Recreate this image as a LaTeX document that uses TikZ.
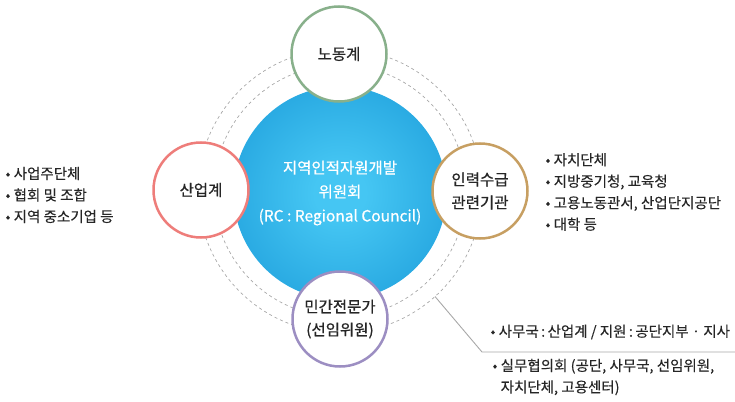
\documentclass[tikz,border=0pt]{standalone}
\usepackage{fontspec}
\setmainfont{Noto Sans CJK KR}
\newfontfamily\labelfont[FakeBold=0.7]{Noto Sans CJK KR}
\newfontfamily\listfont[FakeBold=0.25]{Noto Sans CJK KR}
\usetikzlibrary{positioning}
\usetikzlibrary{calc}

\definecolor{rclight}{HTML}{45C6F3}
\definecolor{rcdark}{HTML}{0787CD}
\definecolor{laborcol}{HTML}{88B08B}
\definecolor{industrycol}{HTML}{EE7D7A}
\definecolor{supplycol}{HTML}{C79F62}
\definecolor{expertcol}{HTML}{9C8EC2}
\definecolor{ringcol}{HTML}{A8A8A8}
\definecolor{textcol}{HTML}{262626}
\pgfdeclareradialshading{rcshading}{\pgfpoint{0bp}{0bp}}{color(0bp)=(rclight); color(6bp)=(rclight); color(50bp)=(rcdark)}

\begin{document}
\begin{tikzpicture}[x=1pt, y=-1pt,
    member/.style={circle, draw, line width=2.5pt, fill=white, minimum size=95pt, inner sep=0pt, align=center, text=textcol, font=\labelfont\fontsize{15.5}{23}\selectfont},
    ring/.style={draw=ringcol, line width=0.7pt, dash pattern=on 3pt off 3pt},
    bullets/.style={anchor=west, align=left, text=textcol, font=\listfont\fontsize{14.5}{21.5}\selectfont}]
    \useasboundingbox (0,0) rectangle (735,401); % keeps the page at the reference size
    \coordinate (mid) at (340,191);
    \draw[ring] (mid) circle[radius=126]; % inner dashed ring
    \draw[ring] (mid) circle[radius=142]; % outer dashed ring
    \node[circle, minimum size=213pt, inner sep=0pt, shading=rcshading, align=center, text=white, font=\labelfont\fontsize{15.5}{24}\selectfont] (rc) at (340,193) {지역인적자원개발\\위원회\\(RC : Regional Council)};
    \node[member, draw=laborcol] (labor) at (339,54) {노동계};
    \node[member, draw=industrycol] (industry) at (201,190) {산업계};
    \node[member, draw=supplycol] (supply) at (480,191) {인력수급\\관련기관};
    \node[member, draw=expertcol] (expert) at (340,319) {민간전문가\\(선임위원)};
    % member lists
    \node[bullets] (industrylist) at (2,195) {•~사업주단체\\•~협회 및 조합\\•~지역 중소기업 등};
    \node[bullets] (supplylist) at (542,192) {•~자치단체\\•~지방중기청, 교육청\\•~고용노동관서, 산업단지공단\\•~대학 등};
    % leader to the secretariat notes
    \coordinate (leadstart) at ($(mid)+(48:142)$);
    \coordinate (leadbend) at (482,352);
    \coordinate (leadend) at (735,352);
    \draw[ringcol, line width=0.9pt] (leadstart) -- (leadbend) -- (leadend);
    \node[bullets] (office) at (487,332) {•~사무국\,:\,산업계 / 지원\,:\,공단지부 · 지사};
    \node[bullets] (council) at (489,377) {•~실무협의회 (공단, 사무국, 선임위원,\\\phantom{•~}자치단체, 고용센터)};
\end{tikzpicture}
\end{document}
